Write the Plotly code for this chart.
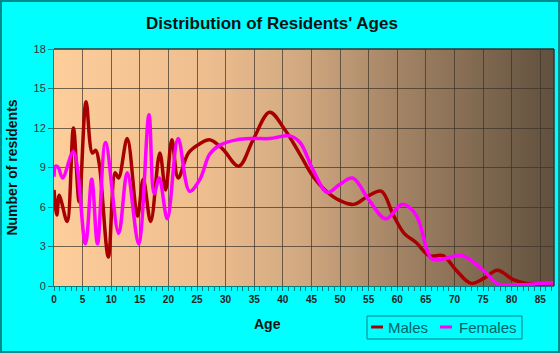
import base64
import plotly.graph_objects as go

# ---- data ----
male_age = [0, 0.5, 0.9, 1.3, 2.3, 3.4, 4.4, 5.6, 6.7, 7.3, 7.9, 9.5, 10.7, 11.3, 12.8, 14.6,
            15.6, 16.9, 18.5, 19.5, 20.6, 21.7, 23.5, 25.5, 27.2, 29.5, 32.3, 34.8, 37.7, 40.3,
            43, 45.3, 47.6, 49.9, 52.4, 54.8, 57.2, 59.3, 61.2, 63.3, 65.6, 68, 70.3, 72.9,
            75.2, 77.5, 80.2, 82.5, 85, 87.4]
male_val = [7.3, 5.4, 6.9, 6.4, 4.9, 12.0, 6.4, 14.0, 10.1, 10.3, 9.3, 2.2, 8.6, 8.2, 11.2, 5.3,
            8.1, 4.9, 10.1, 7.3, 11.1, 8.2, 10.1, 10.8, 11.1, 10.4, 9.1, 11.1, 13.2, 11.9,
            10.0, 8.3, 7.2, 6.5, 6.2, 6.8, 7.2, 5.4, 4.0, 3.3, 2.3, 2.3, 1.2, 0.2,
            0.6, 1.2, 0.5, 0.2, 0.15, 0.2]

fem_age = [0, 0.3, 0.75, 1.5, 3.4, 5.5, 6.6, 7.6, 9.0, 11.3, 12.8, 14.8, 16.6, 17.5, 18.4, 19.8,
           21.7, 23.7, 25.5, 27.2, 29, 31.9, 34.8, 37.7, 41.2, 43, 45.3, 47.8, 49.9, 52.2, 55.1,
           58.0, 60.9, 63.3, 65.9, 67.4, 71.4, 75, 77.8, 80, 82.5, 85, 87.4]
fem_val = [8.3, 9.1, 9.0, 8.2, 10.2, 3.2, 8.1, 3.2, 10.9, 4.0, 8.6, 3.2, 13.0, 7.0, 8.2, 5.1,
           11.2, 7.2, 8.1, 10.0, 10.7, 11.1, 11.2, 11.2, 11.4, 10.9, 8.8, 7.1, 7.7, 8.2, 6.5,
           5.1, 6.2, 5.4, 2.1, 2.0, 2.3, 1.2, 0.1, 0.1, 0.1, 0.2, 0.25]

series_names = ["Males", "Females"]
series_colors = ["#a80000", "#ff00ff"]

x_ticks = list(range(0, 90, 5))
y_ticks = list(range(0, 19, 3))

title_text = "Distribution of Residents' Ages"
x_title = "Age"
y_title = "Number of residents"

# ---- gradient background as an SVG image ----
svg = (
    '<svg xmlns="http://www.w3.org/2000/svg" width="500" height="237" preserveAspectRatio="none">'
    '<defs><linearGradient id="g" x1="0" y1="0" x2="1" y2="0">'
    '<stop offset="0" stop-color="rgb(253,205,154)"/>'
    '<stop offset="0.3" stop-color="rgb(238,190,143)"/>'
    '<stop offset="0.5" stop-color="rgb(208,168,128)"/>'
    '<stop offset="0.65" stop-color="rgb(172,138,106)"/>'
    '<stop offset="1" stop-color="rgb(96,80,62)"/>'
    '</linearGradient></defs>'
    '<rect width="500" height="237" fill="url(#g)"/></svg>'
)
svg_uri = "data:image/svg+xml;base64," + base64.b64encode(svg.encode()).decode()

FONT = "Liberation Sans, Arial, sans-serif"
TEAL = "#007f7f"

fig = go.Figure()
fig.add_trace(go.Scatter(x=male_age, y=male_val, mode="lines", name=series_names[0],
                         line=dict(color=series_colors[0], width=3.5, shape="spline", smoothing=1.0)))
fig.add_trace(go.Scatter(x=fem_age, y=fem_val, mode="lines", name=series_names[1],
                         line=dict(color=series_colors[1], width=3.5, shape="spline", smoothing=1.0)))

L, R, T, B = 54, 6, 49, 67
W, H = 560, 353
pw, ph = W - L - R, H - T - B


def px(xpix):
    return (xpix - L) / pw


def py(ypix):
    return (T + ph - ypix) / ph


shapes = [
    dict(type="line", xref="paper", yref="paper", x0=0, x1=1, y0=1, y1=1,
         line=dict(color="#333", width=1.5)),
    dict(type="line", xref="paper", yref="paper", x0=1, x1=1, y0=0, y1=1,
         line=dict(color="#333", width=1.5)),
    # outer figure border
    dict(type="rect", xref="paper", yref="paper",
         x0=px(1), x1=px(W - 1), y0=py(H - 1), y1=py(1),
         line=dict(color="#008b8b", width=2)),
    # legend box
    dict(type="rect", xref="paper", yref="paper",
         x0=px(367), x1=px(522), y0=py(339), y1=py(316),
         line=dict(color=TEAL, width=1)),
]
annotations = [
    dict(text=x_title, xref="paper", yref="paper", x=px(267), y=py(324),
         xanchor="center", yanchor="middle", showarrow=False,
         font=dict(family=FONT, size=14, color="#111", weight="bold")),
]
leg_line_x = [371, 440]
leg_text_x = [386, 457]
for name, col, lx, tx in zip(series_names, series_colors, leg_line_x, leg_text_x):
    shapes.append(dict(type="line", xref="paper", yref="paper", x0=px(lx), x1=px(lx + 12),
                       y0=py(327), y1=py(327), line=dict(color=col, width=3)))
    annotations.append(dict(text=name, xref="paper", yref="paper", x=px(tx), y=py(327.5),
                            xanchor="left", yanchor="middle", showarrow=False,
                            font=dict(family=FONT, size=15, color="#006464")))

fig.update_layout(
    width=W, height=H,
    margin=dict(l=L, r=R, t=T, b=B),
    paper_bgcolor="#00ffff",
    plot_bgcolor="rgba(0,0,0,0)",
    showlegend=False,
    title=dict(text=title_text, x=px(272), xref="paper", xanchor="center",
               y=1 - 23 / H, yanchor="middle",
               font=dict(family=FONT, size=17, color="#111", weight="bold")),
    images=[dict(source=svg_uri, xref="paper", yref="paper", x=0, y=1, sizex=1, sizey=1,
                 sizing="stretch", layer="below")],
    xaxis=dict(range=[0, 87.4], tickvals=x_ticks, showgrid=True, gridcolor="rgba(60,50,40,0.7)",
               gridwidth=1, zeroline=False, showline=True, linecolor=TEAL, linewidth=1,
               ticks="outside", ticklen=4, tickcolor=TEAL,
               minor=dict(dtick=1, ticks="outside", ticklen=4, tickcolor=TEAL, showgrid=False),
               tickfont=dict(family=FONT, size=10, color="#222", weight="bold")),
    yaxis=dict(range=[0, 18], tickvals=y_ticks, showgrid=True, gridcolor="rgba(60,50,40,0.7)",
               gridwidth=1, zeroline=False, showline=True, linecolor=TEAL, linewidth=1,
               ticks="outside", ticklen=5, tickcolor=TEAL,
               tickfont=dict(family=FONT, size=11, color="#333"),
               title=dict(text=y_title, font=dict(family=FONT, size=14, color="#111", weight="bold"),
                          standoff=12)),
    shapes=shapes,
    annotations=annotations,
)

fig.write_html("out.html")
